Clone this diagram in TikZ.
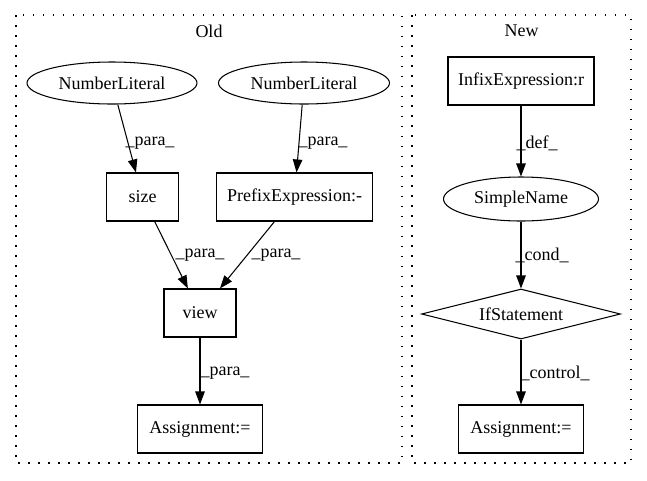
\documentclass[tikz,border=0pt]{standalone}
\usepackage{fontspec}
\setmainfont{Liberation Serif}
\usetikzlibrary{shapes.geometric,arrows.meta}
\begin{document}
\begin{tikzpicture}[x=1pt,y=-1pt,
  every node/.style={font=\fontsize{18}{21}\selectfont},
  box/.style={draw,line width=1.05pt,rectangle,inner sep=0pt,minimum height=48pt},
  oval/.style={draw,line width=1.05pt,ellipse,inner sep=0pt},
  cond/.style={draw,line width=1.05pt,diamond,inner sep=0pt,aspect=4},
  edge/.style={line width=1.05pt,-{Triangle[length=13pt,width=9.5pt]}},
  lbl/.style={inner sep=0pt},
  cluster/.style={line width=1.2pt,dash pattern=on 1.5pt off 8.5pt}]
\useasboundingbox (0,0) rectangle (647,480);
% clusters
\draw[cluster] (16,15) rectangle (402,463);
\draw[cluster] (412,15) rectangle (631,463);
\node (old) at (209,31) {Old};
\node (new) at (521.5,31) {New};
% Old nodes
\node[oval,minimum width=170pt,minimum height=42pt] (nl1) at (112,83) {NumberLiteral};
\node[oval,minimum width=171pt,minimum height=42pt] (nl2) at (304,83) {NumberLiteral};
\node[box,minimum width=72pt] (size) at (142.5,197) {size};
\node[box,minimum width=156pt] (prefix) at (294.5,197) {PrefixExpression:-};
\node[box,minimum width=72pt] (view) at (200,313) {view};
\node[box,minimum width=125pt] (asg1) at (200,429) {Assignment:=};
% New nodes
\node[box,minimum width=146pt] (infix) at (521,81) {InfixExpression:r};
\node[oval,minimum width=155pt,minimum height=44pt] (sname) at (521,199) {SimpleName};
\node[cond,minimum width=199pt,minimum height=50pt] (ifs) at (521,314) {IfStatement};
\node[box,minimum width=125pt] (asg2) at (521,429) {Assignment:=};
% edges
\draw[edge] (nl1) -- (size);
\draw[edge] (nl2) -- (prefix);
\draw[edge] (size) -- (view);
\draw[edge] (prefix) -- (view);
\draw[edge] (view) -- (asg1);
\draw[edge] (infix) -- (sname);
\draw[edge] (sname) -- (ifs);
\draw[edge] (ifs) -- (asg2);
% edge labels
\node[lbl] (l1) at (150,143) {\_para\_};
\node[lbl] (l2) at (323,143) {\_para\_};
\node[lbl] (l3) at (537,143) {\_def\_};
\node[lbl] (l4) at (200,255) {\_para\_};
\node[lbl] (l5) at (276,255) {\_para\_};
\node[lbl] (l6) at (225,373) {\_para\_};
\node[lbl] (l7) at (542,255) {\_cond\_};
\node[lbl] (l8) at (555,373) {\_control\_};
\end{tikzpicture}
\end{document}
